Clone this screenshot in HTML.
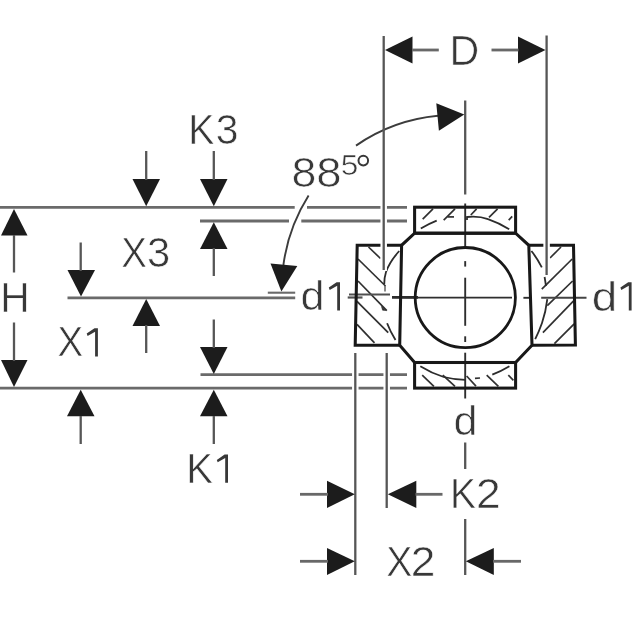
<!DOCTYPE html>
<html>
<head>
<meta charset="utf-8">
<title>Fitting dimension drawing</title>
<style>
  html, body { margin: 0; padding: 0; background: #ffffff; }
  body { width: 640px; height: 640px; overflow: hidden; font-family: "Liberation Sans", sans-serif; }
  svg { display: block; filter: blur(0.45px); }
  .thin { stroke: #565656; stroke-width: 2.3; fill: none; }
  .cl { stroke: #2e2e2e; stroke-width: 1.9; fill: none; }
  .hthin { stroke: #686868; stroke-width: 2.8; fill: none; }
  .ext { stroke: #6a6a6a; stroke-width: 2.8; fill: none; }
  .thick { stroke: #181818; stroke-width: 3.05; fill: none; stroke-linejoin: miter; }
  .hatch { stroke: #303030; stroke-width: 1.7; fill: none; stroke-linecap: butt; }
  .hid { stroke: #2c2c2c; stroke-width: 1.8; fill: none; }
  .halo { stroke: #ffffff; stroke-width: 6.5; fill: none; }
  .ah { fill: #1c1c1c; stroke: none; }
  .g1 { fill: #383838; stroke: none; }
  text { font-family: "Liberation Sans", sans-serif; fill: #383838; stroke: #ffffff; stroke-width: 0.6; }
</style>
</head>
<body>
<svg width="640" height="640" viewBox="0 0 640 640">
  <rect x="0" y="0" width="640" height="640" fill="#ffffff"/>

  <!-- ===== horizontal extension lines (left side) ===== -->
  <g class="ext">
    <line x1="-4" y1="207.3" x2="407" y2="207.3"/>
    <line x1="200" y1="221" x2="407" y2="221"/>
    <line x1="67.5" y1="297.8" x2="295.2" y2="297.8"/>
    <line x1="267.8" y1="292.7" x2="295.2" y2="292.7" stroke-width="2.1"/>
    <line x1="200.5" y1="374.7" x2="407" y2="374.7"/>
    <line x1="-4" y1="388.2" x2="407" y2="388.2"/>
  </g>
  <!-- gaps where the angle arc crosses -->
  <g stroke="#ffffff" stroke-width="5" fill="none">
    <line x1="294.7" y1="207.3" x2="307" y2="207.3"/>
    <line x1="289" y1="221" x2="301.3" y2="221"/>
  </g>

  <!-- ===== flanges (white fill, hatch, hidden arcs) ===== -->
  <g>
    <rect x="414.6" y="207.2" width="101" height="26" fill="#ffffff" stroke="none"/>
    <rect x="414.6" y="362.5" width="101" height="25.6" fill="#ffffff" stroke="none"/>
    <path d="M 357.2 245.3 L 401.6 245.3 L 399.7 345.2 L 355.2 345.2 Z" fill="#ffffff" stroke="none"/>
    <path d="M 528.8 245.3 L 573.5 245.3 L 575.4 345 L 532 345.2 Z" fill="#ffffff" stroke="none"/>
  </g>
  <g class="hatch">
    <!-- left flange  -->
    <line x1="368.5" y1="247" x2="380.5" y2="258.5"/>
    <line x1="358" y1="259" x2="385.5" y2="286"/>
    <line x1="358" y1="281" x2="386.8" y2="310.7"/>
    <line x1="357" y1="301.4" x2="388.2" y2="332.6"/>
    <line x1="357" y1="324.4" x2="374.5" y2="342.8"/>
    <!-- right flange -->
    <line x1="550" y1="258" x2="561" y2="247"/>
    <line x1="541.8" y1="289.2" x2="572.2" y2="259"/>
    <line x1="547.3" y1="305.6" x2="572.6" y2="281"/>
    <line x1="542.9" y1="332.6" x2="573.6" y2="300.9"/>
    <line x1="554.4" y1="343.6" x2="574.2" y2="323.8"/>
    <!-- top flange -->
    <line x1="422.7" y1="219.2" x2="433" y2="208.9"/>
    <line x1="443.7" y1="220.2" x2="455" y2="208.9"/>
    <line x1="447.5" y1="216.9" x2="454" y2="216.9"/>
    <line x1="470.8" y1="215" x2="476.6" y2="208.9"/>
    <line x1="489" y1="217.3" x2="497.6" y2="208.9"/>
    <line x1="508.7" y1="220.2" x2="512.2" y2="216.4"/>
    <!-- bottom flange -->
    <line x1="422.2" y1="375.2" x2="433.9" y2="386.4"/>
    <line x1="442.8" y1="375.2" x2="455" y2="386.4"/>
    <line x1="466.6" y1="376" x2="476" y2="386.2"/>
    <line x1="475" y1="378.4" x2="480" y2="378"/>
    <line x1="486.7" y1="375.2" x2="498.4" y2="386.4"/>
    <line x1="508.3" y1="375.2" x2="513.4" y2="380.3"/>
  </g>
  <g class="hid">
    <!-- top flange hidden arcs -->
    <path d="M 420.8 228.6 Q 428 224 436.7 220.6"/>
    <path d="M 467 220 L 467 217 Q 479 215.8 488 219.2 Q 499.4 223.2 509.2 229.2"/>
    <!-- bottom flange hidden arcs -->
    <path d="M 420.3 366.2 Q 431.6 373.2 443.7 377 Q 455 379.8 465.3 379.8"/>
    <path d="M 492.3 374.7 Q 501 371.2 509.4 366.2"/>
    <!-- left flange hidden arcs -->
    <path d="M 399.2 251 Q 389.5 262 386 272 Q 384.2 278 384.3 284"/>
    <path d="M 387.1 323.3 Q 390 331 395.5 340"/>
    <path d="M 381.5 306.5 L 385.6 310.4 L 382.6 310.2 Z" fill="#2c2c2c" stroke-width="0.6"/>
    <!-- right flange hidden arcs -->
    <path d="M 531.4 251 Q 537 258 541.8 267.3"/>
    <path d="M 544.6 277 L 546 286"/>
    <path d="M 547.3 299.2 Q 545.8 312 542 323 Q 539 331.5 535.2 339.2"/>
  </g>


  <!-- ===== centre lines ===== -->
  <g class="thin">
    <!-- vertical (outside body) -->
    <line x1="465.2" y1="100.5" x2="465.2" y2="194.5"/>
    <line x1="465.2" y1="442.5" x2="465.2" y2="469"/>
    <line x1="465.2" y1="519" x2="465.2" y2="575"/>
    <!-- horizontal (outside body) -->
    <line x1="349" y1="294.5" x2="390" y2="294.5" stroke="#505050" stroke-width="2.2"/>
    <line x1="347.7" y1="297.5" x2="362.5" y2="297.5" stroke="#505050" stroke-width="2.2"/>
    <line x1="541.2" y1="297.7" x2="586.5" y2="297.7" stroke="#444444" stroke-width="2.1"/>
  </g>
  <g class="cl">
    <!-- vertical (inside body) -->
    <line x1="465.2" y1="203.5" x2="465.2" y2="247"/>
    <line x1="465.2" y1="261.1" x2="465.2" y2="266.6"/>
    <line x1="465.2" y1="277.7" x2="465.2" y2="325.8"/>
    <line x1="465.2" y1="336.3" x2="465.2" y2="342"/>
    <line x1="465.2" y1="352.7" x2="465.2" y2="398.5"/>
    <!-- horizontal (inside body) -->
    <line x1="392" y1="297.6" x2="512" y2="297.6"/>
    <line x1="392" y1="297.2" x2="418" y2="297.4" stroke-width="2.6"/>
    <line x1="523.4" y1="297.8" x2="530" y2="297.8"/>
  </g>

  <!-- ===== angle arc 88.5 deg ===== -->
  <g class="thin" style="stroke:#3c3c3c;stroke-width:1.9">
    <path d="M 438 115.8 A 172.6 172.6 0 0 0 356 145.6"/>
    <path d="M 308.6 195.6 A 172.6 172.6 0 0 0 283.4 265"/>
  </g>

  <!-- ===== fitting body outlines ===== -->
  <g class="thick">
    <rect x="414.6" y="207.2" width="101" height="26"/>
    <rect x="414.6" y="362.5" width="101" height="25.6"/>
    <path d="M 401.6 245.3 L 357.2 245.3 L 355.2 345.2 L 399.7 345.2"/>
    <path d="M 528.8 245.3 L 573.5 245.3 L 575.4 345 L 532 345.2"/>
    <path d="M 414.6 233.2 L 515.6 233.2 L 528.8 245.3 L 532 345.2 L 515.6 362.5 L 414.6 362.5 L 399.7 345.2 L 401.6 245.3 Z"/>
    <circle cx="465.3" cy="297.6" r="50.1" stroke-width="2.8"/>
  </g>

  <!-- ===== vertical extension lines ===== -->
  <g class="halo">
    <line x1="383.7" y1="201" x2="383.7" y2="227"/>
    <line x1="383.7" y1="241" x2="383.7" y2="271"/>
    <line x1="546.6" y1="241" x2="546.6" y2="276"/>
    <line x1="355.3" y1="368" x2="355.3" y2="394"/>
    <line x1="386.7" y1="368" x2="386.7" y2="394"/>
  </g>
  <g class="thin">
    <line x1="383.7" y1="36" x2="383.7" y2="270"/>
    <line x1="385" y1="286" x2="385" y2="291.5" stroke-width="1.4"/>
    <line x1="546.6" y1="35.5" x2="546.6" y2="275"/>
    <line x1="355.3" y1="353" x2="355.3" y2="575"/>
    <line x1="386.7" y1="353" x2="386.7" y2="508"/>
  </g>

  <!-- ===== arrow heads ===== -->
  <g class="ah">
    <!-- D -->
    <path d="M 385 50 L 412.5 36.5 L 412.5 63.5 Z"/>
    <path d="M 545.5 50 L 518 36.5 L 518 63.5 Z"/>
    <!-- angle -->
    <path d="M 464.3 114.6 L 436.3 103.2 L 438.9 130.7 Z"/>
    <path d="M 281.4 291.4 L 270.5 263.5 L 297.3 266 Z"/>
    <!-- H -->
    <path d="M 14 209 L 1 235.5 L 27.5 235.5 Z"/>
    <path d="M 14 387 L 1 360 L 27.5 360 Z"/>
    <!-- X1 -->
    <path d="M 81 296.5 L 67.5 270 L 95 270 Z"/>
    <path d="M 80.7 389.8 L 67 416.3 L 94.5 416.3 Z"/>
    <!-- X3 -->
    <path d="M 146.2 206.2 L 132.5 179 L 160 179 Z"/>
    <path d="M 146.2 299 L 132.5 326 L 160 326 Z"/>
    <!-- K3 -->
    <path d="M 213.8 206.2 L 200 179 L 227.5 179 Z"/>
    <path d="M 213.8 222.3 L 200 249 L 227.5 249 Z"/>
    <!-- K1 -->
    <path d="M 213.8 374 L 200 347 L 227.5 347 Z"/>
    <path d="M 213.8 389.8 L 200 416.3 L 227.5 416.3 Z"/>
    <!-- K2 -->
    <path d="M 354.8 494.3 L 327 480.8 L 327 508 Z"/>
    <path d="M 387.8 494.3 L 416.3 480.8 L 416.3 508 Z"/>
    <!-- X2 -->
    <path d="M 354.8 561.3 L 327 548 L 327 575 Z"/>
    <path d="M 465.8 561.3 L 493.8 548 L 493.8 575 Z"/>
  </g>
  <!-- arrow shafts -->
  <g class="thin">
    <line class="hthin" x1="412" y1="50" x2="438.8" y2="50"/>
    <line class="hthin" x1="491.5" y1="50" x2="518.5" y2="50"/>
    <line x1="14" y1="235" x2="14" y2="272.5"/>
    <line x1="14" y1="322.5" x2="14" y2="361"/>
    <line x1="80.7" y1="242.5" x2="80.7" y2="271"/>
    <line x1="80.7" y1="416" x2="80.7" y2="444"/>
    <line x1="146.2" y1="151" x2="146.2" y2="180"/>
    <line x1="146.2" y1="325" x2="146.2" y2="353"/>
    <line x1="213.8" y1="151" x2="213.8" y2="180"/>
    <line x1="213.8" y1="248" x2="213.8" y2="276"/>
    <line x1="213.8" y1="319.5" x2="213.8" y2="348"/>
    <line x1="213.8" y1="416" x2="213.8" y2="444"/>
    <line class="hthin" x1="300" y1="494.3" x2="328" y2="494.3"/>
    <line class="hthin" x1="415.5" y1="494.3" x2="442.5" y2="494.3"/>
    <line class="hthin" x1="300" y1="561.3" x2="328" y2="561.3"/>
    <line class="hthin" x1="493" y1="561.3" x2="521" y2="561.3"/>
  </g>

  <!-- ===== labels ===== -->
  <g style="filter: grayscale(1);">
    <text transform="translate(449.52 64.6) scale(0.981 1)" font-size="42">D</text>
    <text transform="translate(188.27 144.2) scale(0.938 1)" font-size="42">K</text>
    <text transform="translate(215.64 144.2) scale(0.974 1)" font-size="42">3</text>
    <text transform="translate(291.56 187.2) scale(1.066 1)" font-size="42">8</text>
    <text transform="translate(316.32 187.2) scale(1.086 1)" font-size="42">8</text>
    <text transform="translate(340.63 174.8) scale(1.083 1)" font-size="29.2">5</text>
    <text transform="translate(121.24 267.0) scale(0.916 1)" font-size="42">X</text>
    <text transform="translate(147.01 267.0) scale(0.994 1)" font-size="42">3</text>
    <text transform="translate(0.37 312.2) scale(0.968 1)" font-size="42">H</text>
    <text transform="translate(57.44 356.4) scale(0.916 1)" font-size="42">X</text>
    <text transform="translate(300.39 310.4) scale(1.027 0.96)" font-size="42">d</text>
    <text transform="translate(591.78 310.7) scale(1.091 0.96)" font-size="42">d</text>
    <text transform="translate(453.59 435.2) scale(1.027 0.96)" font-size="42">d</text>
    <text transform="translate(186.31 482.9) scale(0.954 1)" font-size="42">K</text>
    <text transform="translate(449.90 508.2) scale(0.930 1)" font-size="42">K</text>
    <text transform="translate(476.07 508.2) scale(1.056 1)" font-size="42">2</text>
    <text transform="translate(386.22 575.8) scale(0.932 1)" font-size="42">X</text>
    <text transform="translate(410.77 575.8) scale(1.056 1)" font-size="42">2</text>
    <path class="g1" d="M 97.9 328.2 L 97.9 356.4 L 95.1 356.4 L 95.1 331.7 L 87.6 335.9 L 86.7 333.5 L 94.5 328.2 Z"/>
    <path class="g1" d="M 340.0 282.2 L 340.0 310.4 L 337.2 310.4 L 337.2 285.7 L 329.7 289.9 L 328.8 287.5 L 336.6 282.2 Z"/>
    <path class="g1" d="M 631.6 282.2 L 631.6 310.4 L 628.8 310.4 L 628.8 285.7 L 621.3 289.9 L 620.4 287.5 L 628.2 282.2 Z"/>
    <path class="g1" d="M 228.0 454.6 L 228.0 482.8 L 225.2 482.8 L 225.2 458.1 L 217.7 462.3 L 216.8 459.9 L 224.6 454.6 Z"/>
    <circle cx="363.3" cy="160.6" r="4.8" fill="none" stroke="#383838" stroke-width="2"/>
  </g>
</svg>
</body>
</html>
